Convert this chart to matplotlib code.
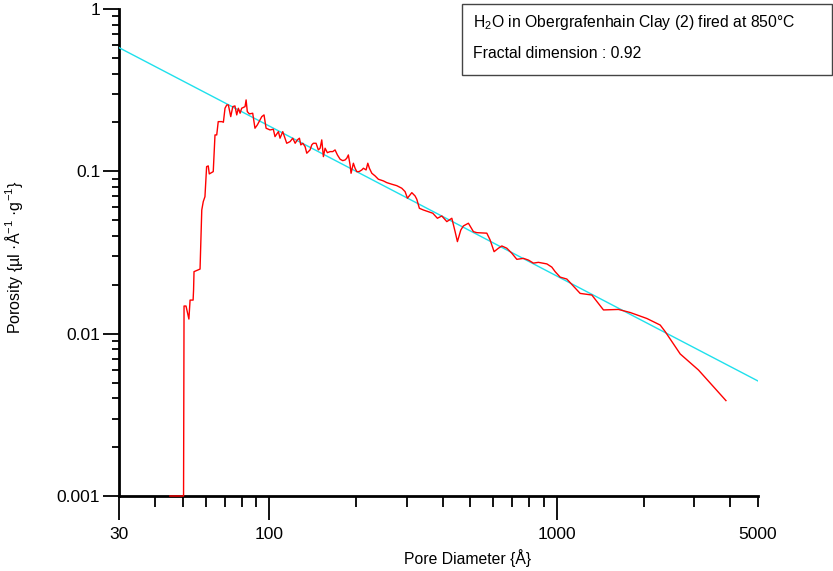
import matplotlib
matplotlib.use("Agg")
import matplotlib.pyplot as plt
from matplotlib.ticker import FixedLocator, FixedFormatter, NullFormatter
from matplotlib.patches import Rectangle

plt.rcParams['font.family'] = ['Liberation Sans', 'DejaVu Sans']
plt.rcParams['mathtext.fontset'] = 'custom'
plt.rcParams['mathtext.rm'] = 'Liberation Sans'
plt.rcParams['mathtext.it'] = 'Liberation Sans:italic'

# measured porosity distribution (pore diameter in Angstrom, porosity)
diameter = [45.1, 50.3, 50.5, 51.3, 52.5, 53.0, 54.3, 54.5, 54.7, 57.4, 58.2, 58.9,
            59.7, 60.5, 61.3, 61.8, 63.8, 64.7, 65.6, 66.4, 68.3, 69.2, 70.1, 71.1,
            72.0, 73.4, 74.6, 75.9, 77.0, 78.0, 79.1, 80.1, 82.3, 83.0, 83.8, 85.2,
            87.5, 89.1, 90.8, 94.1, 95.8, 97.4, 100.5, 103.2, 104.6, 107.5, 108.9,
            111.3, 114.9, 118.0, 120.6, 122.9, 125.1, 127.2, 128.6, 130.7, 133.1,
            134.9, 136.6, 138.5, 140.4, 142.2, 145.3, 148.0, 150.1, 152.1, 154.1,
            156.2, 159.1, 162.6, 166.1, 169.2, 172.4, 176.2, 179.9, 183.3, 185.8,
            188.2, 190.8, 192.3, 195.9, 198.6, 201.3, 205.1, 209.6, 212.3, 216.9,
            219.9, 222.7, 227.1, 233.1, 239.3, 249.1, 256.0, 266.4, 277.3, 288.6,
            296.4, 302.0, 308.5, 312.8, 321.1, 325.5, 332.3, 343.1, 357.2, 370.0,
            383.9, 397.7, 414.0, 430.9, 442.4, 450.6, 463.0, 472.8, 492.1, 512.2,
            526.4, 570.2, 585.4, 604.4, 625.7, 643.0, 669.2, 696.6, 725.1, 764.5,
            795.7, 828.1, 861.9, 922.1, 959.6, 985.4, 1025.6, 1082, 1204, 1322,
            1451, 1636, 1797, 2054, 2285, 2378, 2682, 3105, 3868]
porosity = [0.001, 0.001, 0.0148, 0.0148, 0.0123, 0.0161, 0.0161, 0.0186, 0.0241,
            0.0250, 0.0578, 0.0651, 0.0698, 0.1069, 0.1080, 0.0964, 0.0996, 0.1676,
            0.1676, 0.2024, 0.2024, 0.2007, 0.2447, 0.2565, 0.2565, 0.2173, 0.2504,
            0.2529, 0.2226, 0.2447, 0.2280, 0.2447, 0.2504, 0.2754, 0.2333, 0.2258,
            0.2280, 0.1843, 0.1931, 0.2173, 0.2226, 0.1843, 0.1799, 0.1817, 0.1636,
            0.1756, 0.1600, 0.1756, 0.1489, 0.1524, 0.1600, 0.1489, 0.1562, 0.1600,
            0.1455, 0.1489, 0.1420, 0.1293, 0.1323, 0.1355, 0.1455, 0.1489, 0.1489,
            0.1355, 0.1388, 0.1562, 0.1232, 0.1388, 0.1303, 0.1323, 0.1323, 0.1355,
            0.1262, 0.1187, 0.1164, 0.1175, 0.1204, 0.1262, 0.1095, 0.0973, 0.1122,
            0.1045, 0.0996, 0.0996, 0.1020, 0.1045, 0.1020, 0.1122, 0.1045, 0.0973,
            0.0937, 0.0894, 0.0873, 0.0852, 0.0833, 0.0816, 0.0787, 0.0750, 0.0683,
            0.0716, 0.0739, 0.0705, 0.0673, 0.0592, 0.0578, 0.0564, 0.0552, 0.0514,
            0.0531, 0.0490, 0.0514, 0.0425, 0.0369, 0.0435, 0.0461, 0.0479, 0.0425,
            0.0419, 0.0416, 0.0378, 0.0320, 0.0336, 0.0347, 0.0336, 0.0313, 0.0287,
            0.0291, 0.0284, 0.0272, 0.0275, 0.0269, 0.0257, 0.0241, 0.0223, 0.0217,
            0.0177, 0.0173, 0.0140, 0.0141, 0.0135, 0.0124, 0.0113, 0.0103, 0.0075,
            0.00597, 0.00387]

# fractal fit line end points
fit_x = [30, 5000]
fit_y = [0.578, 0.00511]

title_text = "H$_2$O in Obergrafenhain Clay (2) fired at 850°C"
fractal_text = "Fractal dimension : 0.92"

x_major = [30, 100, 1000]
x_minor = [40, 50, 60, 70, 80, 90, 200, 300, 400, 500, 600, 700, 800, 900,
           2000, 3000, 4000, 5000]
y_major = [0.001, 0.01, 0.1, 1]
y_labels = ["0.001", "0.01", "0.1", "1"]

W, H = 833, 571
fig = plt.figure(figsize=(W / 100, H / 100), dpi=100)
ax = fig.add_axes([119 / W, 1 - 496 / H, (758 - 119) / W, (496 - 9) / H])

ax.plot(fit_x, fit_y, color='#1fe0ec', lw=1.0, zorder=2)
ax.plot(diameter, porosity, color='#ff0000', lw=1.0, zorder=3, clip_on=False)

ax.set_xscale('log')
ax.set_yscale('log')
ax.set_xlim(30, 5000)
ax.set_ylim(0.001, 1)

for s in ['top', 'right']:
    ax.spines[s].set_visible(False)
for s in ['left', 'bottom']:
    ax.spines[s].set_linewidth(2.0)
    ax.spines[s].set_zorder(1)

ax.xaxis.set_major_locator(FixedLocator(x_major))
ax.xaxis.set_major_formatter(FixedFormatter([str(v) for v in x_major]))
ax.xaxis.set_minor_locator(FixedLocator(x_minor))
ax.xaxis.set_minor_formatter(FixedFormatter(["5000" if v == 5000 else "" for v in x_minor]))
ax.yaxis.set_major_locator(FixedLocator(y_major))
ax.yaxis.set_major_formatter(FixedFormatter(y_labels))
ax.yaxis.set_minor_formatter(NullFormatter())

ax.tick_params(axis='x', which='major', length=17, width=1.3, pad=5, labelsize=12.5)
ax.tick_params(axis='x', which='minor', length=8, width=1.3, pad=14, labelsize=12.5)
ax.tick_params(axis='y', which='major', length=11.5, width=1.3, pad=2, labelsize=12.5)
ax.tick_params(axis='y', which='minor', length=5, width=1.3)

ax.set_xlabel("Pore Diameter {Å}", fontsize=11.3)
ax.xaxis.set_label_coords((468 - 119) / (758 - 119), -0.108)
ax.set_ylabel("Porosity {µl ·Å$^{-1}$ ·g$^{-1}$}", fontsize=11.5)
ax.yaxis.set_label_coords((25 - 119) / (758 - 119), 0.49)

fig.patches.append(Rectangle((462 / W, 1 - 75 / H), (832 - 462) / W, 71 / H,
                             transform=fig.transFigure, fill=False,
                             edgecolor='#444444', lw=1.0))
fig.text(473 / W, 1 - 22 / H, title_text, fontsize=11.3, va='center')
fig.text(473 / W, 1 - 53 / H, fractal_text, fontsize=11.3, va='center')

fig.savefig("out.png", dpi=100)
